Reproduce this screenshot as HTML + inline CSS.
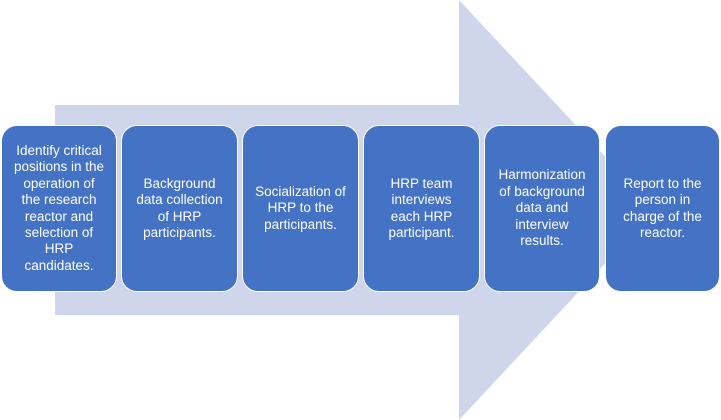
<!DOCTYPE html>
<html><head><style>
body{margin:0;width:721px;height:420px;background:#fff;position:relative;overflow:hidden;font-family:"Liberation Sans",sans-serif}
.b{position:absolute;top:125px;height:167px;width:113px;background:#4472C4;border:1.5px solid #fff;border-radius:16px;box-sizing:border-box;color:#fff;font-size:13.5px;line-height:16.4px;text-align:center;display:flex;align-items:center;justify-content:center;padding:0 2px;white-space:nowrap}
</style></head><body>
<svg width="721" height="420" style="position:absolute;left:0;top:0">
<polygon points="55,105 459,105 459,0 655,210 459,420 459,315 55,315" fill="#CFD5EA"/>
</svg>
<div class="b" style="left:1px;width:116px"><div>Identify critical<br>positions in the<br>operation of<br>the research<br>reactor and<br>selection of<br>HRP<br>candidates.</div></div>
<div class="b" style="left:121px;width:117px"><div>Background<br>data collection<br>of HRP<br>participants.</div></div>
<div class="b" style="left:242px;width:117px"><div>Socialization of<br>HRP to the<br>participants.</div></div>
<div class="b" style="left:363px;width:117px"><div>HRP team<br>interviews<br>each HRP<br>participant.</div></div>
<div class="b" style="left:484px;width:116px"><div>Harmonization<br>of background<br>data and<br>interview<br>results.</div></div>
<div class="b" style="left:605px;width:115px"><div>Report to the<br>person in<br>charge of the<br>reactor.</div></div>
</body></html>
